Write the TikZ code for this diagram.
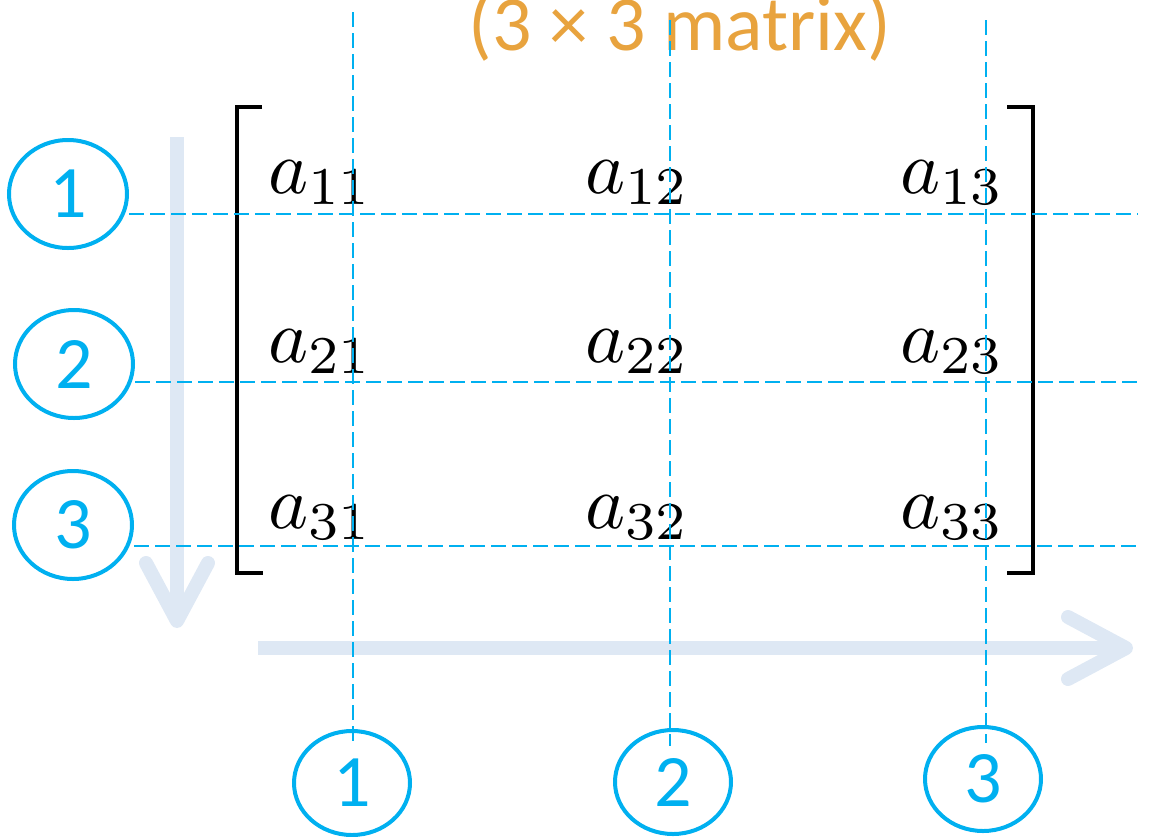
\documentclass[tikz,border=0pt]{standalone}
\usepackage[no-math]{fontspec}
\newfontfamily\calibri{Carlito}
\usetikzlibrary{shapes.geometric,arrows.meta,calc}

\definecolor{guidecyan}{HTML}{00B0F0}
\definecolor{titleorange}{HTML}{E8A33E}
\definecolor{flowblue}{HTML}{DEE8F4}

\begin{document}
\begin{tikzpicture}[x=0.5pt,y=-0.5pt,
  idx/.style={draw=guidecyan, line width=2pt, ellipse, inner sep=0pt,
    minimum width=59pt, minimum height=54pt, text=guidecyan,
    font=\calibri\fontsize{37}{40}\selectfont},
  guide/.style={guidecyan, line width=1pt, dash pattern=on 7.5pt off 3pt},
  entry/.style={anchor=base west, inner sep=0pt},
  flow/.style={flowblue, line width=7pt, -{Straight Barb[length=29pt,width=31pt,round]}},
  bracket/.style={line width=2pt}]

\useasboundingbox (0,0) rectangle (1152,836);

% Title
\node[anchor=base, inner sep=0pt, text=titleorange, font=\calibri\fontsize{39}{40}\selectfont]
  (title) at (680,50) {(3 × 3 matrix)};

% Direction arrows
\coordinate (rowtop) at (177,137);
\coordinate (rowend) at (177,628);
\draw[flow] (rowtop) -- (rowend);
\coordinate (colstart) at (258,648);
\coordinate (colend) at (1133,648);
\draw[flow] (colstart) -- (colend);

% Matrix entries
\foreach \i/\y in {1/193,2/362,3/528}
{
    \foreach \j/\x in {1/268,2/585,3/900}
    {
        \node[entry] (m\i\j) at (\x,\y) {\scalebox{3.8}{$a_{\i\j}$}};
    }
}

% Brackets
\draw[bracket] (262,107) -- (237,107) -- (237,573) -- (263,573);
\draw[bracket] (1007,107) -- (1033,107) -- (1033,573) -- (1007,573);

% Row and column labels
\node[idx] (r1) at (68,194) {1};
\node[idx] (r2) at (74,364) {2};
\node[idx] (r3) at (73,525) {3};
\node[idx, minimum width=58pt, minimum height=52pt] (c1) at (352,783) {1};
\node[idx, minimum width=58pt, minimum height=52pt] (c2) at (673,782) {2};
\node[idx, minimum width=58pt, minimum height=52pt] (c3) at (983,779) {3};

% Horizontal guides from the row labels
\foreach \i/\y in {1/214,2/382,3/546}
{
    \coordinate (h\i) at (1138,\y);
    \draw[guide] (r\i.east |- h\i) -- (h\i);
}

% Vertical guides down to the column labels
\foreach \j/\x/\t in {1/353/12,2/670/20,3/986/20}
{
    \coordinate (v\j) at (\x,\t);
    \draw[guide] (v\j) -- ($(v\j |- c\j.north)+(0,18)$);
}

\end{tikzpicture}
\end{document}
